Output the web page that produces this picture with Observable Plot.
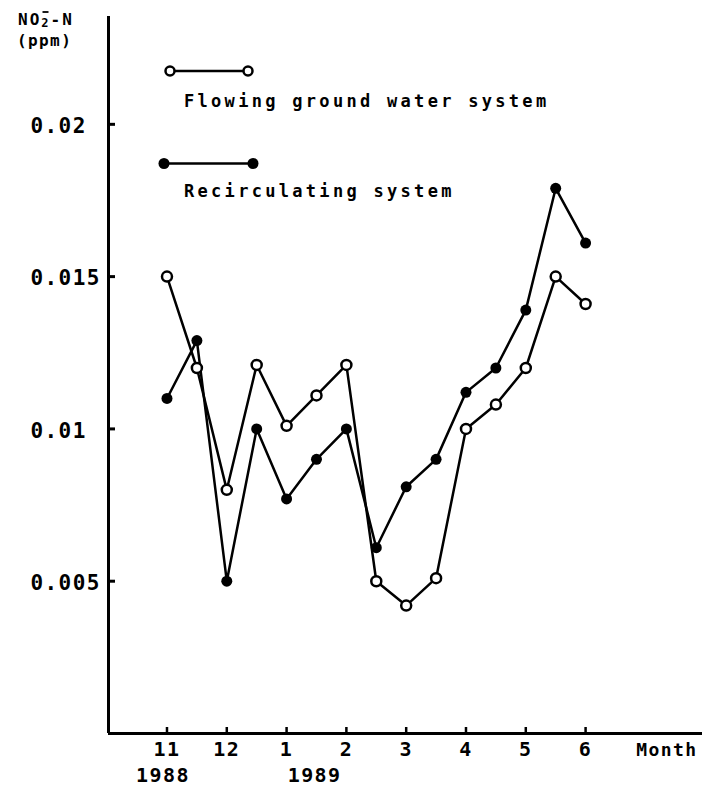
<!DOCTYPE html>
<html><head><meta charset="utf-8">
<script src="https://cdn.jsdelivr.net/npm/d3@7"></script>
<script src="https://cdn.jsdelivr.net/npm/@observablehq/plot@0.6"></script>
<style>
html,body{margin:0;padding:0;background:#fff;}
#chart{position:relative;width:702px;height:799px;}
</style>
</head><body><div id="chart"></div>
<script>
// Time in months since November 1988 (half-month sampling)
const t = [0,0.5,1,1.5,2,2.5,3,3.5,4,4.5,5,5.5,6,6.5,7];
// NO2--N (ppm)
const flowing = [0.0150,0.0120,0.0080,0.0121,0.0101,0.0111,0.0121,0.0050,0.0042,0.0051,0.0100,0.0108,0.0120,0.0150,0.0141];
const recirc  = [0.0110,0.0129,0.0050,0.0100,0.0077,0.0090,0.0100,0.0061,0.0081,0.0090,0.0112,0.0120,0.0139,0.0179,0.0161];
const seriesNames = ["Flowing ground water system","Recirculating system"];
const xTickValues = [0,1,2,3,4,5,6,7];
const xTickLabels = ["11","12","1","2","3","4","5","6"];
const yearValues = [0,2];
const yearLabels = ["1988","1989"];
const yTickValues = [0.005,0.01,0.015,0.02];
const yTickLabels = ["0.005","0.01","0.015","0.02"];
const xTitle = "Month";

const W = 702, H = 799, mL = 108, mR = 0, mT = 16, mB = 66;
const xDomain = [-0.978, 8.955];
const yDomain = [0, 0.02354];
const font = "DejaVu Sans Mono";
const frameW = W - mL - mR, frameH = H - mT - mB;

const rows = t.map((x, i) => ({x, flowing: flowing[i], recirc: recirc[i]}));

const plot = Plot.plot({
  width: W, height: H,
  marginLeft: mL, marginRight: mR, marginTop: mT, marginBottom: mB,
  x: {domain: xDomain, axis: null},
  y: {domain: yDomain, axis: null},
  style: {fontFamily: font, background: "#fff", color: "#000", overflow: "visible"},
  marks: [
    Plot.ruleY([yDomain[0]], {stroke: "#000", strokeWidth: 3}),
    Plot.ruleX([xDomain[0]], {stroke: "#000", strokeWidth: 3}),
    // inward tick marks
    Plot.ruleY(yTickValues, {stroke: "#000", strokeWidth: 3, insetRight: frameW - 7}),
    Plot.ruleX(xTickValues, {stroke: "#000", strokeWidth: 2.5, insetTop: frameH - 6}),
    Plot.text(yTickValues, {y: d => d, text: (d, i) => yTickLabels[i], frameAnchor: "left", dx: -78, dy: 2, textAnchor: "start", fontSize: 21, fontWeight: "bold", fill: "#000"}),
    Plot.text(xTickValues, {x: d => d, text: (d, i) => xTickLabels[i], frameAnchor: "bottom", dy: 22, fontSize: 20, fontWeight: "bold", fill: "#000"}),
    Plot.text([yearValues[0]], {x: d => d, text: [yearLabels[0]], frameAnchor: "bottom", dy: 48, dx: -4, fontSize: 20, fontWeight: "bold", fill: "#000"}),
    Plot.text([yearValues[1]], {x: d => d, text: [yearLabels[1]], frameAnchor: "bottom", dy: 48, dx: 28, fontSize: 20, fontWeight: "bold", fill: "#000"}),
    Plot.text([xTitle], {text: d => d, frameAnchor: "bottom-right", dy: 22, dx: -5, textAnchor: "end", fontSize: 18, fontWeight: "bold", fill: "#000"}),
    Plot.line(rows, {x: "x", y: "flowing", stroke: "#000", strokeWidth: 2.5}),
    Plot.line(rows, {x: "x", y: "recirc", stroke: "#000", strokeWidth: 2.5}),
    Plot.dot(rows, {x: "x", y: "recirc", r: 5.5, fill: "#000", stroke: "none"}),
    Plot.dot(rows, {x: "x", y: "flowing", r: 5, fill: "#fff", stroke: "#000", strokeWidth: 2.5})
  ]
});
document.getElementById("chart").appendChild(plot);

// Letter spacing for typewriter look
d3.select(plot).selectAll("text").style("letter-spacing", "1.4px");

// Legend and y-axis title
const svg = d3.select(plot);
const g = svg.append("g").attr("font-family", font).attr("font-weight", "bold").attr("fill", "#000").attr("text-anchor", "start");

// open circle legend item
g.append("line").attr("x1", 170).attr("x2", 248).attr("y1", 71).attr("y2", 71).attr("stroke", "#000").attr("stroke-width", 2.5);
[170, 248].forEach(cx => g.append("circle").attr("cx", cx).attr("cy", 71).attr("r", 4.5).attr("fill", "#fff").attr("stroke", "#000").attr("stroke-width", 2.5));
g.append("text").attr("x", 184).attr("y", 107).attr("font-size", 17).style("letter-spacing", "3.3px").text(seriesNames[0]);

// filled circle legend item
g.append("line").attr("x1", 164).attr("x2", 253).attr("y1", 163.5).attr("y2", 163.5).attr("stroke", "#000").attr("stroke-width", 2.5);
[164, 253].forEach(cx => g.append("circle").attr("cx", cx).attr("cy", 163.5).attr("r", 5.5).attr("fill", "#000"));
g.append("text").attr("x", 184).attr("y", 197).attr("font-size", 17).style("letter-spacing", "3.3px").text(seriesNames[1]);

// y-axis title: NO2(-)-N (ppm); the ionic charge bar drawn as a short line over the subscript
const yt = g.append("text").attr("x", 18).attr("y", 25).attr("font-size", 16).style("letter-spacing", "2px");
yt.append("tspan").text("NO");
yt.append("tspan").attr("font-size", 12).attr("dy", 2).text("2");
yt.append("tspan").attr("dy", -2).text("-N");
g.append("line").attr("x1", 42.5).attr("x2", 48.5).attr("y1", 12).attr("y2", 12).attr("stroke", "#000").attr("stroke-width", 1.8);
g.append("text").attr("x", 17).attr("y", 46).attr("font-size", 16).style("letter-spacing", "1.4px").text("(ppm)");
</script>
</body></html>
